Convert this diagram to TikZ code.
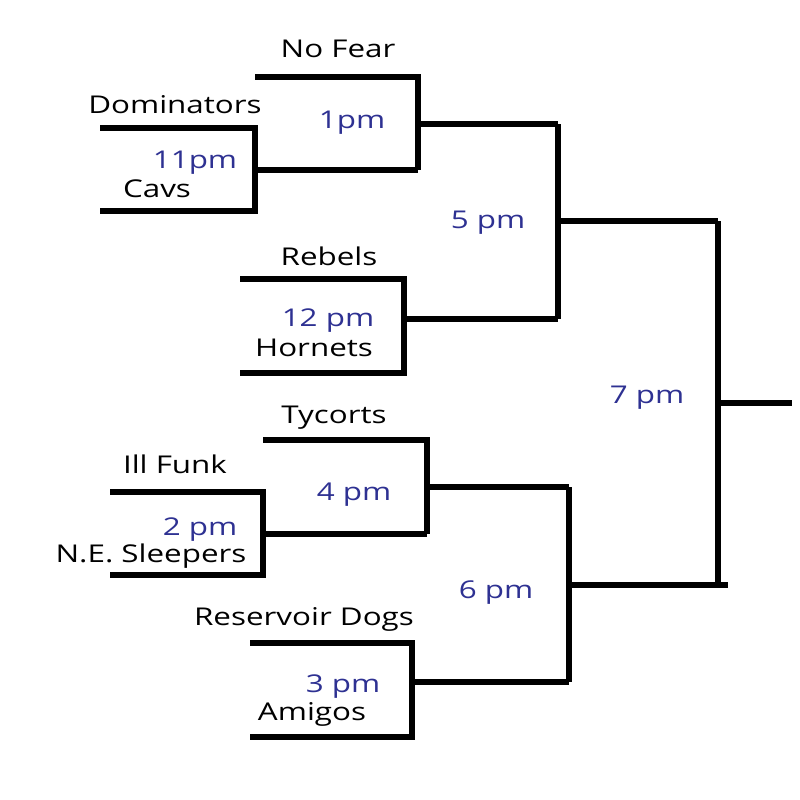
\documentclass[tikz,border=0pt]{standalone}
\usepackage{fontspec}
\setmainfont{Open Sans}[FakeStretch=1.28]
\definecolor{timeblue}{RGB}{46,49,146}
\begin{document}
\begin{tikzpicture}[x=1pt,y=-1pt,
  bline/.style={line width=5.5pt,line join=miter,line cap=butt},
  team/.style={anchor=base,inner sep=0pt,font=\fontsize{24.5}{28}\selectfont,text=black},
  time/.style={anchor=base,inner sep=0pt,font=\fontsize{24.5}{28}\selectfont,text=timeblue}]
\useasboundingbox (0,0) rectangle (800,800);
% coordinates
\coordinate (a1) at (100,128); \coordinate (a2) at (255,128); \coordinate (a3) at (255,211); \coordinate (a4) at (100,211);
\coordinate (am) at (255,170);
\coordinate (b1) at (255,77); \coordinate (b2) at (418,77); \coordinate (b3) at (418,170);
\coordinate (bm) at (418,124);
\coordinate (c1) at (240,279); \coordinate (c2) at (404,279); \coordinate (c3) at (404,373); \coordinate (c4) at (240,373);
\coordinate (cm) at (404,319);
\coordinate (s1) at (558,124); \coordinate (s2) at (558,319); \coordinate (sm) at (558,221);
\coordinate (d1) at (110,492); \coordinate (d2) at (263,492); \coordinate (d3) at (263,575); \coordinate (d4) at (110,575);
\coordinate (dm) at (263,534);
\coordinate (e1) at (263,440); \coordinate (e2) at (427,440); \coordinate (e3) at (427,534);
\coordinate (em) at (427,487);
\coordinate (f1) at (250,643); \coordinate (f2) at (412,643); \coordinate (f3) at (412,737); \coordinate (f4) at (250,737);
\coordinate (fm) at (412,682);
\coordinate (t1) at (569,487); \coordinate (t2) at (569,682); \coordinate (tm) at (569,585);
\coordinate (u1) at (718,221); \coordinate (u2) at (718,585); \coordinate (um) at (718,403);
\coordinate (tend) at (728,585);
\coordinate (win) at (792,403);
% brackets
\draw[bline] (a1) -- (a2) -- (a3) -- (a4);
\draw[bline] (am) -- (b3);
\draw[bline] (b1) -- (b2) -- (b3);
\draw[bline] (bm) -- (s1);
\draw[bline] (c1) -- (c2) -- (c3) -- (c4);
\draw[bline] (cm) -- (s2);
\draw[bline] (s1) -- (s2);
\draw[bline] (sm) -- (u1);
\draw[bline] (d1) -- (d2) -- (d3) -- (d4);
\draw[bline] (dm) -- (e3);
\draw[bline] (e1) -- (e2) -- (e3);
\draw[bline] (em) -- (t1);
\draw[bline] (f1) -- (f2) -- (f3) -- (f4);
\draw[bline] (fm) -- (t2);
\draw[bline] (t1) -- (t2);
\draw[bline] (tm) -- (tend);
\draw[bline] (u1) -- (u2);
\draw[bline] (um) -- (win);
% labels
\node[team] (nofear) at (338,58) {No Fear};
\node[team] (dom) at (175,113) {Dominators};
\node[time] (t1pm) at (352,128) {1pm};
\node[time] (t11pm) at (195,168) {11pm};
\node[team] (cavs) at (157,197) {Cavs};
\node[time] (t5pm) at (488,228) {5 pm};
\node[team] (rebels) at (329,265) {Rebels};
\node[time] (t12pm) at (328,326) {12 pm};
\node[team] (hornets) at (314,356) {Hornets};
\node[time] (t7pm) at (647,403) {7 pm};
\node[team] (tycorts) at (334,423) {Tycorts};
\node[team] (illfunk) at (175,473) {Ill Funk};
\node[time] (t4pm) at (354,500) {4 pm};
\node[time] (t2pm) at (200,535) {2 pm};
\node[team] (nes) at (151,562) {N.E. Sleepers};
\node[time] (t6pm) at (496,598) {6 pm};
\node[team] (resdogs) at (304,625) {Reservoir Dogs};
\node[time] (t3pm) at (343,692) {3 pm};
\node[team] (amigos) at (312,720) {Amigos};
\end{tikzpicture}
\end{document}
